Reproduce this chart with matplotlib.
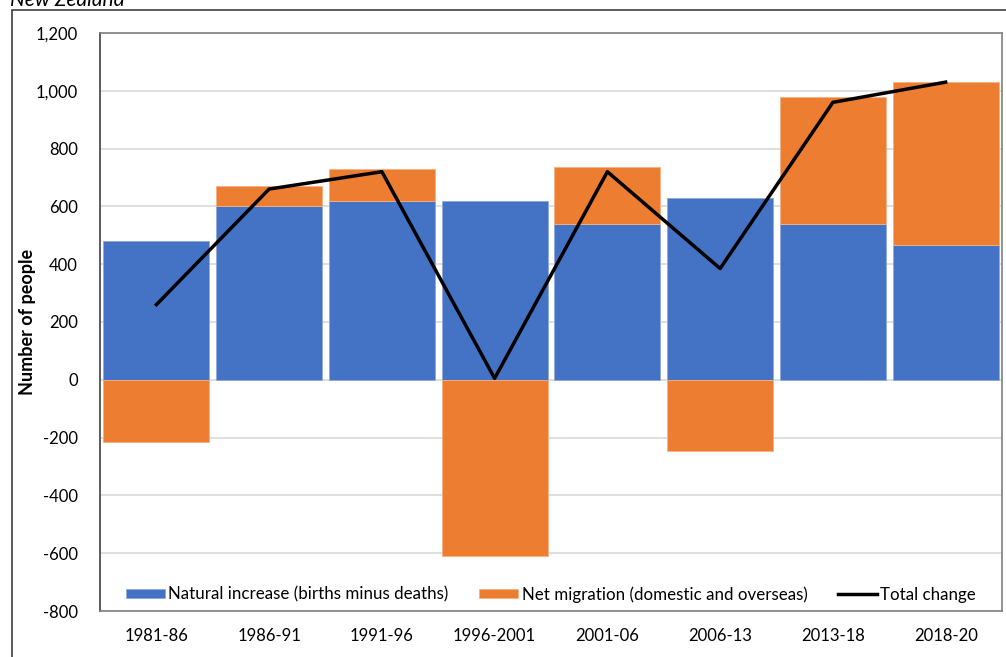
import numpy as np
import matplotlib.pyplot as plt
from matplotlib.patches import Rectangle

periods = ["1981-86", "1986-91", "1991-96", "1996-2001",
           "2001-06", "2006-13", "2013-18", "2018-20"]
natural_increase = [480, 600, 620, 620, 540, 630, 540, 465]
net_migration = [-215, 70, 110, -610, 195, -245, 440, 565]
total_change = [260, 660, 720, 5, 720, 385, 960, 1030]

blue = "#4472C4"
orange = "#ED7D31"
plt.rcParams["font.family"] = ["Lato", "DejaVu Sans"]

fig = plt.figure(figsize=(10.06, 6.57), dpi=100)
ax = fig.add_axes([100 / 1006, 1 - 611 / 657, 902 / 1006, 578 / 657])

x = np.arange(len(periods))
nat = np.array(natural_increase)
mig = np.array(net_migration)
# migration stacks on top of natural increase when positive, hangs below zero when negative
mig_base = np.where(mig > 0, nat, 0)

b1 = ax.bar(x, nat, width=0.94, color=blue, edgecolor="#8faadc", linewidth=0.6,
            label="Natural increase (births minus deaths)", zorder=2)
b2 = ax.bar(x, mig, bottom=mig_base, width=0.94, color=orange, edgecolor="#f4b183",
            linewidth=0.6, label="Net migration (domestic and overseas)", zorder=2)
ln, = ax.plot(x, total_change, color="black", linewidth=2.5, label="Total change", zorder=3)

ax.set_xlim(-0.5, len(periods) - 0.5)
ax.set_ylim(-800, 1200)
ax.set_yticks(range(-800, 1201, 200))
ax.set_yticklabels([f"{v:,}" for v in range(-800, 1201, 200)])
ax.set_xticks(x)
ax.set_xticklabels(periods)
ax.tick_params(length=0, labelsize=12, pad=16)
ax.tick_params(axis="x", pad=12)
ax.yaxis.grid(True, color="#d9d9d9", linewidth=1.2, zorder=0)
ax.set_axisbelow(True)
for side in ["top", "right", "bottom"]:
    ax.spines[side].set_color("#7f7f7f")
    ax.spines[side].set_linewidth(1.2)
ax.spines["left"].set_color("#404040")
ax.spines["left"].set_linewidth(1.2)

ax.set_ylabel("Number of people", fontsize=13, fontweight="bold")
ax.yaxis.set_label_coords(-0.071, 0.5)

ax.legend(handles=[b1, b2, ln], loc="lower center", bbox_to_anchor=(0.5, -0.012),
          ncol=3, frameon=False, fontsize=12.2, handlelength=2.3, handleheight=0.5,
          handletextpad=0.2, columnspacing=1.8)

# outer chart frame and clipped heading
fig.patches.append(Rectangle((12 / 1006, -0.1), 1.2, 1 - 10 / 657 + 0.1,
                             transform=fig.transFigure, fill=False,
                             edgecolor="#404040", linewidth=1.2))
fig.text(10 / 1006, 1 - 6 / 657, "New Zealand", fontsize=15, style="italic",
         va="baseline", ha="left")

fig.savefig("out.png", dpi=100)
